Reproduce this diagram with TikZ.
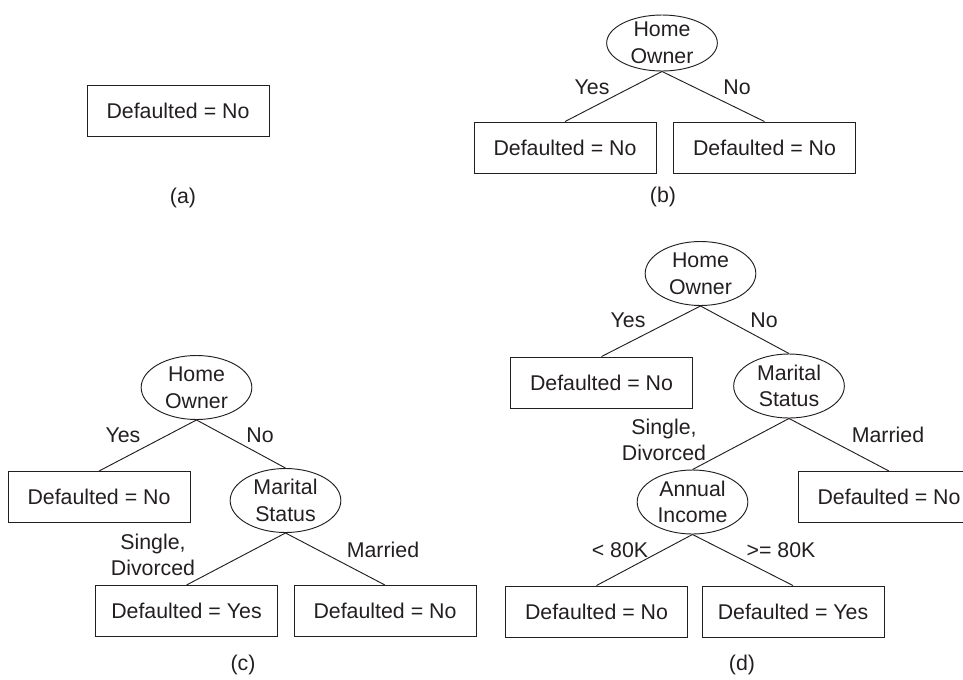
\documentclass[tikz,border=0pt]{standalone}
\usepackage{fontspec}
\setmainfont{Liberation Sans}
\usepackage{xcolor}
\usepackage{tikz}
\usetikzlibrary{shapes.geometric, positioning}
\definecolor{treeink}{HTML}{231F20}

\begin{document}
\begin{tikzpicture}[
    x=0.75pt, y=-0.75pt,
    font=\fontsize{16}{20}\selectfont, text=treeink,
    leaf/.style={rectangle, draw=treeink, line width=0.7pt, minimum width=136.5pt, minimum height=38.25pt, inner sep=0pt},
    test/.style={ellipse, draw=treeink, line width=0.7pt, align=center, minimum width=83pt, minimum height=#1, inner sep=-2pt},
    test/.default=48pt,
    branch/.style={draw=treeink, line width=0.7pt},
    caption/.style={font=\fontsize{16}{20}\selectfont}
]
\useasboundingbox (0,0) rectangle (963,679);
\clip (0,0) rectangle (963,679);

% (a) a single leaf
\node[leaf] (aleaf) at (178,110.5) {Defaulted = No};
\node[caption] (acap) at (183,198) {(a)};

% (b) split on home owner
\node[test=42pt] (bho) at (662,43) {Home\\Owner};
\node[leaf] (byes) at (565,147.5) {Defaulted = No};
\node[leaf] (bno) at (764.5,147.5) {Defaulted = No};
\draw[branch] (bho.south) -- (byes.north);
\draw[branch] (bho.south) -- (bno.north);
\node (bly) at (592,87) {Yes};
\node (bln) at (737,87) {No};
\node[caption] (bcap) at (663,197) {(b)};

% (c) split on marital status
\node[test] (cho) at (196.5,387.5) {Home\\Owner};
\node[leaf] (cyes) at (99,497) {Defaulted = No};
\node[test] (cms) at (285.5,500.5) {Marital\\Status};
\node[leaf] (csd) at (186.5,611) {Defaulted = Yes};
\node[leaf] (cmar) at (385,611) {Defaulted = No};
\draw[branch] (cho.south) -- (cyes.north);
\draw[branch] (cho.south) -- (cms.north);
\draw[branch] (cms.south) -- (csd.north);
\draw[branch] (cms.south) -- (cmar.north);
\node (cly) at (123,435) {Yes};
\node (cln) at (260,435) {No};
\node[align=center] (clsd) at (153,555) {Single,\\Divorced};
\node (clm) at (383,550) {Married};
\node[caption] (ccap) at (243,665) {(c)};

% (d) split on annual income
\node[test] (dho) at (700.5,273.5) {Home\\Owner};
\node[leaf] (dyes) at (601.5,382.5) {Defaulted = No};
\node[test] (dms) at (789,386) {Marital\\Status};
\node[leaf] (dmar) at (889,497) {Defaulted = No};
\node[test] (dai) at (692.5,502) {Annual\\Income};
\node[leaf] (dlow) at (596.5,611.5) {Defaulted = No};
\node[leaf] (dhigh) at (793,611.5) {Defaulted = Yes};
\draw[branch] (dho.south) -- (dyes.north);
\draw[branch] (dho.south) -- (dms.north);
\draw[branch] (dms.south) -- (dai.north);
\draw[branch] (dms.south) -- (dmar.north);
\draw[branch] (dai.south) -- (dlow.north);
\draw[branch] (dai.south) -- (dhigh.north);
\node (dly) at (628,320) {Yes};
\node (dln) at (764,320) {No};
\node[align=center] (dlsd) at (664,440) {Single,\\Divorced};
\node (dlm) at (888,435) {Married};
\node (dllow) at (620,550) {< 80K};
\node (dlhigh) at (781,550) {>= 80K};
\node[caption] (dcap) at (742,665) {(d)};

\end{tikzpicture}
\end{document}
